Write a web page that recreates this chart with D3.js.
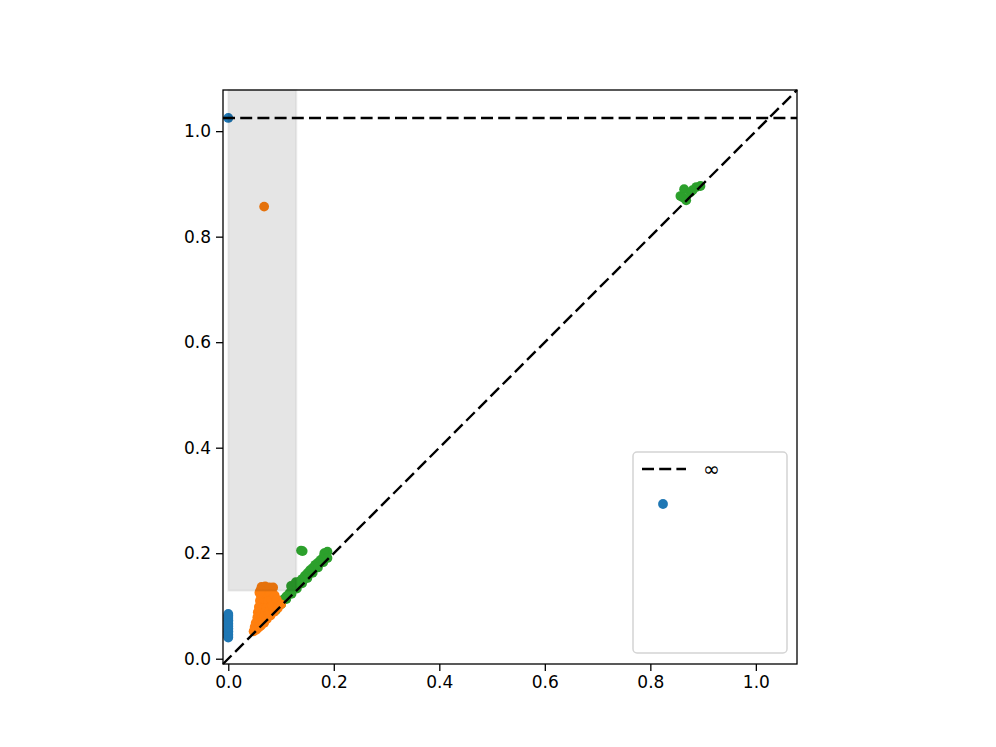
<!DOCTYPE html>
<html><head><meta charset="utf-8">
<script src="https://cdn.jsdelivr.net/npm/d3@7"></script>
<style>body{margin:0;background:#fff;} text{font-family:"DejaVu Sans",sans-serif;}</style>
</head><body>
<svg id="chart" width="996" height="747"></svg>
<script>
const domainMin = -0.01, domainMax = 1.078;
const infinityValue = 1.025;
const xTicks = [0.0, 0.2, 0.4, 0.6, 0.8, 1.0];
const yTicks = [0.0, 0.2, 0.4, 0.6, 0.8, 1.0];
const bandRect = {x0: 0.0, x1: 0.129, y0: 0.129};
const legendLabel = "\u221e";

// dimension 0 (blue)
const h0Births = [0,0,0,0,0,0,0,0,0,0,0,0,0,0,0,0,0];
const h0Deaths = [0.040,0.043,0.046,0.049,0.052,0.055,0.058,0.061,0.064,0.067,0.070,0.073,0.076,0.079,0.082,0.085,infinityValue];
// dimension 1 (orange)
const h1Births = [0.063,0.070,0.078,0.085,0.066,0.074,0.062,0.070,0.080,0.060,0.066,0.075,0.082,0.058,0.065,0.072,0.080,0.056,0.062,0.070,0.078,0.055,0.062,0.068,0.075,0.052,0.058,0.065,0.072,0.050,0.056,0.062,0.068,0.048,0.053,0.058,0.088,0.090,0.084,0.092,0.095,0.060,0.066,0.073,0.080,0.087,0.094,0.100,0.061,0.059,0.068];
const h1Deaths = [0.136,0.137,0.135,0.135,0.128,0.126,0.120,0.118,0.122,0.110,0.105,0.108,0.112,0.098,0.095,0.096,0.098,0.088,0.085,0.088,0.090,0.078,0.076,0.080,0.082,0.068,0.066,0.070,0.075,0.060,0.058,0.063,0.068,0.052,0.055,0.060,0.120,0.108,0.100,0.112,0.100,0.062,0.068,0.075,0.082,0.089,0.096,0.103,0.130,0.125,0.857];
// dimension 2 (green)
const h2Births = [0.085,0.092,0.098,0.104,0.110,0.116,0.120,0.119,0.125,0.130,0.135,0.140,0.145,0.150,0.155,0.160,0.165,0.170,0.175,0.180,0.185,0.188,0.182,0.138,0.141,0.090,0.100,0.110,0.120,0.130,0.140,0.150,0.160,0.170,0.180,0.188,0.128,0.857,0.864,0.868,0.876,0.887,0.895,0.880,0.862];
const h2Deaths = [0.093,0.100,0.105,0.112,0.118,0.124,0.130,0.138,0.137,0.141,0.146,0.151,0.157,0.162,0.168,0.172,0.178,0.182,0.187,0.192,0.198,0.203,0.200,0.205,0.204,0.092,0.103,0.113,0.123,0.133,0.143,0.153,0.163,0.173,0.183,0.191,0.145,0.877,0.890,0.869,0.884,0.894,0.896,0.888,0.874];

const colors = ["#1f77b4", "#ff7f0e", "#2ca02c"];

const svg = d3.select("#chart");
const mLeft = 223, mRight = 797, mTop = 90, mBottom = 664;
const x = d3.scaleLinear().domain([domainMin, domainMax]).range([mLeft, mRight]);
const y = d3.scaleLinear().domain([domainMin, domainMax]).range([mBottom, mTop]);

const pts = [];
[[h0Births,h0Deaths],[h1Births,h1Deaths],[h2Births,h2Deaths]].forEach(([b,d],k)=>{
  b.forEach((v,i)=>pts.push({b:v,d:d[i],k}));
});

const plot = svg.append("g");
plot.selectAll("circle.pt").data(pts.slice().sort((a,b)=>b.k-a.k)).enter().append("circle")
  .attr("cx",d=>x(d.b)).attr("cy",d=>y(d.d)).attr("r",4.9)
  .attr("fill",d=>colors[d.k]);

// band rectangle
plot.append("rect")
  .attr("x", x(bandRect.x0)).attr("y", mTop)
  .attr("width", x(bandRect.x1)-x(bandRect.x0)).attr("height", y(bandRect.y0)-mTop)
  .attr("fill","#000").attr("fill-opacity",0.1)
  .attr("stroke","#000").attr("stroke-opacity",0.06).attr("stroke-width",2);

// diagonal & infinity lines
plot.append("line").attr("x1",x(domainMin)).attr("y1",y(domainMin)).attr("x2",x(domainMax)).attr("y2",y(domainMax))
  .attr("stroke","#000").attr("stroke-width",2.4).attr("stroke-dasharray","12,5.2");
plot.append("line").attr("x1",mLeft).attr("x2",mRight).attr("y1",y(infinityValue)).attr("y2",y(infinityValue))
  .attr("stroke","#000").attr("stroke-width",2.4).attr("stroke-dasharray","12,5.2");

// axes
const xAxis = d3.axisBottom(x).tickValues(xTicks).tickFormat(d3.format(".1f")).tickSize(7).tickPadding(5);
const yAxis = d3.axisLeft(y).tickValues(yTicks).tickFormat(d3.format(".1f")).tickSize(7).tickPadding(5);
const gx = svg.append("g").attr("transform",`translate(0,${mBottom})`).call(xAxis);
const gy = svg.append("g").attr("transform",`translate(${mLeft},0)`).call(yAxis);
[gx,gy].forEach(g=>{
  g.select(".domain").remove();
  g.selectAll(".tick line").attr("stroke","#000").attr("stroke-width",1.3);
  g.selectAll(".tick text").attr("fill","#000").style("font-size","17px").style("font-family","DejaVu Sans");
});
svg.append("rect").attr("x",mLeft).attr("y",mTop).attr("width",mRight-mLeft).attr("height",mBottom-mTop)
  .attr("fill","none").attr("stroke","#000").attr("stroke-width",1.3);

// legend
const lg = svg.append("g");
lg.append("rect").attr("x",633).attr("y",452).attr("width",154).attr("height",201).attr("rx",4)
  .attr("fill","#fff").attr("fill-opacity",0.8).attr("stroke","#d4d4d4").attr("stroke-width",1.5);
lg.append("line").attr("x1",642).attr("x2",686).attr("y1",469).attr("y2",469)
  .attr("stroke","#000").attr("stroke-width",2.4).attr("stroke-dasharray","12,5.2");
lg.append("text").attr("x",703).attr("y",476).text(legendLabel).style("font-size","20px").attr("fill","#000");
lg.append("circle").attr("cx",663).attr("cy",504).attr("r",4.9).attr("fill",colors[0]);
</script>
</body></html>
